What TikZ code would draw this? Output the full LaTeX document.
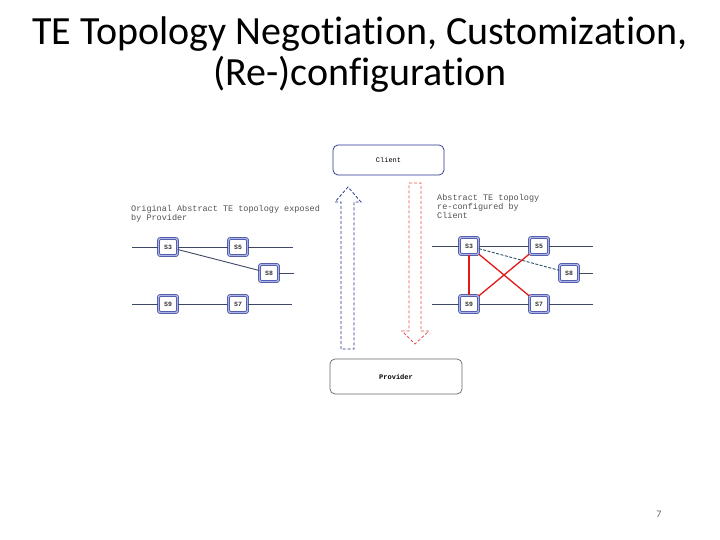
\documentclass[tikz,border=0pt]{standalone}
\usepackage{fontspec}
\setmainfont{Carlito}[Ligatures=NoCommon]
\newfontfamily\monofont{Liberation Mono}
\definecolor{navyc}{RGB}{40,50,140}
\definecolor{lightbl}{RGB}{170,180,230}
\definecolor{linec}{RGB}{60,72,100}
\definecolor{redc}{RGB}{225,25,25}
\definecolor{arrred}{RGB}{230,80,80}
\definecolor{txtgray}{RGB}{80,80,80}
\tikzset{
  sw/.style={draw=navyc, double=lightbl, double distance=1.6pt, line width=0.6pt, fill=white,
    rounded corners=2pt, minimum width=19pt, minimum height=17pt, inner sep=0pt,
    font=\monofont\bfseries\fontsize{6.5}{7}\selectfont, text=black!80},
  lnk/.style={draw=linec, line width=0.9pt},
  rlnk/.style={draw=redc, line width=1.3pt},
  lbl/.style={font=\monofont\fontsize{8.5}{9.3}\selectfont, text=txtgray, align=left, anchor=north west, inner sep=0pt},
  bigbox/.style={rounded corners=5pt, line width=0.7pt, fill=white, inner sep=0pt},
  ttl/.style={font=\fontsize{40}{41}\selectfont, anchor=base, inner sep=0pt, text=black}
}
\begin{document}
\begin{tikzpicture}[x=1pt,y=-1pt]
\useasboundingbox (0,0) rectangle (720,540);
% title
\node[ttl] (title1) at (360,45) {TE Topology Negotiation, Customization,};
\node[ttl] (title2) at (360,86) {(Re-)configuration};
\node[font=\fontsize{10}{12}\selectfont, text=black!60] (pg) at (659,514) {7};
% client / provider
\node[bigbox, draw=navyc, minimum width=111pt, minimum height=30pt, font=\monofont\fontsize{7}{8}\selectfont] (client) at (388.5,160) {Client};
\node[bigbox, draw=black!60, minimum width=132pt, minimum height=35pt, font=\monofont\bfseries\fontsize{7}{8}\selectfont] (provider) at (396,376.5) {Provider};
% block arrows
\draw[navyc, line width=0.8pt, dash pattern=on 3pt off 2pt] (341,349) -- (341,202) -- (335,202) -- (348,187) -- (361,202) -- (354,202) -- (354,349) -- cycle;
\draw[arrred, line width=0.8pt, dash pattern=on 3pt off 2pt] (409,183) -- (421,183) -- (421,331) -- (429,331) -- (415,344) -- (402,331) -- (409,331) -- cycle;
% left topology
\node[lbl] (ltxt) at (131,205) {Original Abstract TE topology exposed\\by Provider};
\node[sw] (la) at (168,247) {S3};
\node[sw] (lb) at (238,247) {S5};
\node[sw] (lc) at (269,273) {S8};
\node[sw] (ld) at (168,304) {S9};
\node[sw] (le) at (238,304) {S7};
\coordinate (l1a) at (132,247); \coordinate (l1b) at (293,247);
\coordinate (l2) at (294,273);
\coordinate (l3a) at (132,304); \coordinate (l3b) at (292,304);
\draw[lnk] (l1a) -- (la) -- (lb) -- (l1b);
\draw[lnk] (la) -- (lc);
\draw[lnk] (lc) -- (l2);
\draw[lnk] (l3a) -- (ld) -- (le) -- (l3b);
% right topology
\node[lbl] (rtxt) at (437,194) {Abstract TE topology\\re-configured by\\Client};
\node[sw] (ra) at (469,246) {S3};
\node[sw] (rb) at (539,246) {S5};
\node[sw] (rc) at (569,273) {S8};
\node[sw] (rd) at (469,304) {S9};
\node[sw] (re) at (539,304) {S7};
\coordinate (r1a) at (432,246); \coordinate (r1b) at (593,246);
\coordinate (r2) at (593,273);
\coordinate (r3a) at (432,304); \coordinate (r3b) at (593,304);
\draw[lnk] (r1a) -- (ra) -- (rb) -- (r1b);
\draw[lnk, dash pattern=on 3pt off 1.5pt, draw=linec!80!teal] (ra) -- (rc);
\draw[lnk] (rc) -- (r2);
\draw[lnk] (r3a) -- (rd) -- (re) -- (r3b);
\draw[rlnk, line width=1.6pt] (ra) -- (rd);
\draw[rlnk] (ra) -- (re);
\draw[rlnk] (rb) -- (rd);
\end{tikzpicture}
\end{document}
